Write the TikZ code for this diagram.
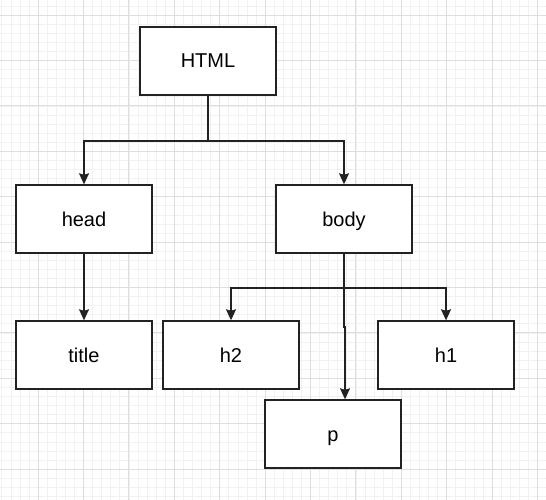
\documentclass[tikz,border=0pt]{standalone}
\usepackage{fontspec}
\setmainfont{Liberation Sans}
\usetikzlibrary{arrows.meta,calc}
\definecolor{minorgrid}{HTML}{F1F1F1}
\definecolor{majorgrid}{HTML}{DEDEDE}
\definecolor{ink}{HTML}{222222}
\tikzset{
  box/.style={draw=ink, line width=1.4pt, fill=white, rectangle,
    minimum width=136pt, minimum height=68pt, inner sep=0pt,
    text height=14pt, text depth=0pt,
    font=\fontsize{20pt}{23pt}\selectfont, text=black},
  conn/.style={draw=ink, line width=1.3pt},
  arr/.style={conn, -{Stealth[length=11pt,width=10pt,inset=1.5pt]}},
}
\begin{document}
\begin{tikzpicture}[x=1pt,y=-1pt]
\useasboundingbox (0,0) rectangle (546,500);
\fill[white] (0,0) rectangle (546,500);
% minor grid
\foreach \i in {-5,...,60} {
  \pgfmathsetmacro\xx{38+9.08*\i}
  \draw[minorgrid, line width=0.5pt] (\xx,0) -- (\xx,500);
}
\foreach \i in {-5,...,60} {
  \pgfmathsetmacro\yy{15+9.08*\i}
  \draw[minorgrid, line width=0.5pt] (0,\yy) -- (546,\yy);
}
% major grid
\foreach \i in {-1,...,12} {
  \pgfmathsetmacro\xx{38+45.4*\i}
  \draw[majorgrid, line width=0.8pt] (\xx,0) -- (\xx,500);
}
\foreach \i in {-1,...,12} {
  \pgfmathsetmacro\yy{15+45.4*\i}
  \draw[majorgrid, line width=0.8pt] (0,\yy) -- (546,\yy);
}
% nodes
\node[box] (html)  at (208,61)  {HTML};
\node[box] (head)  at (84,219)  {head};
\node[box] (body)  at (344,219) {body};
\node[box] (title) at (84,355)  {title};
\node[box] (h2)    at (231,355) {h2};
\node[box] (h1)    at (446,355) {h1};
\node[box] (p)     at (333,434) {p};
% connector junctions
\coordinate (j1) at (208,141);
\coordinate (j2) at (344,288);
\coordinate (pj) at (345,327);
% connectors
\draw[arr] (html.south) -- (j1) -| (head.north);
\draw[arr] (j1) -| (body.north);
\draw[arr] (head.south) -- (title.north);
\draw[arr] (body.south) -- (j2) -| (h2.north);
\draw[arr] (j2) -| (h1.north);
\draw[arr] (j2) -- (j2 |- pj) -- (pj) -- (pj |- p.north);
\end{tikzpicture}
\end{document}
